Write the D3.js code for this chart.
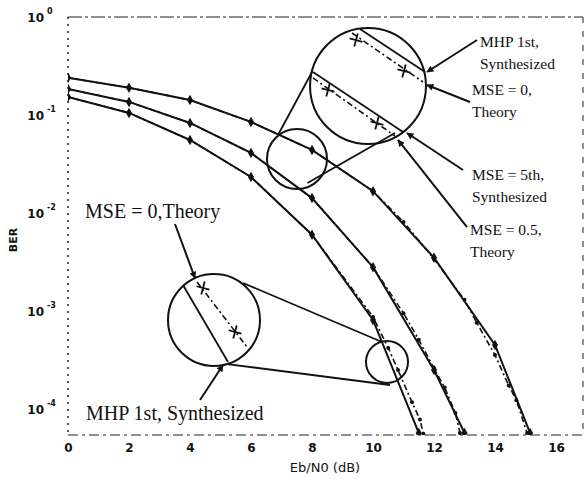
<!DOCTYPE html>
<html>
<head>
<meta charset="utf-8">
<script src="https://cdn.jsdelivr.net/npm/d3@7"></script>
<style>
  body { margin: 0; background: #fff; }
  text { fill: #111; }
</style>
</head>
<body>
<div id="chart"></div>
<script>
// ---- data (Eb/N0 in dB, BER) ----
const xTicks = [0, 2, 4, 6, 8, 10, 12, 14, 16];
const yExponents = [0, -1, -2, -3, -4];

// synthesized curves (solid, diamond markers)
const synthTopX = [0, 2, 4, 6, 8, 10, 12, 14, 15.15];
const synthTopY = [0.24, 0.19, 0.142, 0.085, 0.044, 0.0167, 0.0035, 4.5e-4, 5.7e-5];
const synthMidX = [0, 2, 4, 6, 8, 10, 12, 13.0];
const synthMidY = [0.184, 0.136, 0.083, 0.041, 0.0142, 0.0028, 2.5e-4, 5.7e-5];
const synthLowX = [0, 2, 4, 6, 8, 10, 11.5];
const synthLowY = [0.153, 0.105, 0.0556, 0.0233, 0.006, 8.1e-4, 5.7e-5];

// theory curves (dash-dot, dot markers)
const theoryTopX = [0, 2, 4, 6, 8, 10, 11, 12, 13, 13.4, 14, 14.45, 14.7, 15.05];
const theoryTopY = [0.24, 0.19, 0.142, 0.085, 0.044, 0.0167, 0.0081, 0.0034, 0.0013, 7.6e-4, 3.55e-4, 1.74e-4, 1.23e-4, 5.7e-5];
const theoryMidX = [0, 2, 4, 6, 8, 10, 11, 11.5, 12, 12.35, 12.7, 12.85];
const theoryMidY = [0.184, 0.136, 0.083, 0.041, 0.0142, 0.0028, 9.5e-4, 5.1e-4, 2.6e-4, 1.66e-4, 9.1e-5, 5.7e-5];
const theoryLowX = [0, 2, 4, 6, 8, 10, 10.5, 10.82, 11.28, 11.54, 11.65];
const theoryLowY = [0.153, 0.105, 0.0556, 0.0233, 0.006, 8.7e-4, 4.2e-4, 2.5e-4, 1.17e-4, 7.8e-5, 5.6e-5];

const width = 585;
const height = 479;
const margin = { top: 17, right: 2, bottom: 44, left: 68 };
const plotW = width - margin.left - margin.right;
const plotH = height - margin.top - margin.bottom;

const svg = d3.select("#chart").append("svg")
  .attr("width", width)
  .attr("height", height);

const x = d3.scaleLinear().domain([0, 16.885]).range([margin.left, margin.left + plotW]);
const y = d3.scaleLog().domain([1, Math.pow(10, -4.2653)]).range([margin.top, margin.top + plotH]);

// position from (dB, log10 BER)
const at = (db, lg) => [x(db), y(Math.pow(10, lg))];
const rad = r => x(r) - x(0);

const defs = svg.append("defs");
defs.append("clipPath").attr("id", "plot")
  .append("rect")
  .attr("x", margin.left).attr("y", margin.top)
  .attr("width", plotW).attr("height", plotH);

defs.append("marker")
  .attr("id", "head")
  .attr("viewBox", "0 0 10 10")
  .attr("refX", 9).attr("refY", 5)
  .attr("markerWidth", 10).attr("markerHeight", 7)
  .attr("markerUnits", "userSpaceOnUse")
  .attr("orient", "auto")
  .append("path")
  .attr("d", "M0,0 L10,5 L0,10 Z")
  .attr("fill", "#111");

// frame (dashed box like the scan)
const frame = svg.append("g").attr("stroke", "#222").attr("fill", "none");
frame.append("line")
  .attr("x1", x(0)).attr("x2", x(16.885)).attr("y1", y(1)).attr("y2", y(1))
  .attr("stroke-width", 1.2).attr("stroke-dasharray", "14,3,3,3");
frame.append("line")
  .attr("x1", x(0)).attr("x2", x(16.885)).attr("y1", margin.top + plotH).attr("y2", margin.top + plotH)
  .attr("stroke-width", 1.2).attr("stroke-dasharray", "10,4,3,4");
frame.append("line")
  .attr("x1", x(0)).attr("x2", x(0)).attr("y1", margin.top).attr("y2", margin.top + plotH)
  .attr("stroke-width", 1.5).attr("stroke-dasharray", "2,5");
frame.append("line")
  .attr("x1", x(16.885)).attr("x2", x(16.885)).attr("y1", margin.top).attr("y2", margin.top + plotH)
  .attr("stroke-width", 1).attr("stroke-dasharray", "6,8");

// x axis labels
const xAxis = d3.axisBottom(x).tickValues(xTicks).tickSize(0).tickPadding(0).tickFormat(d3.format("d"));
const gx = svg.append("g")
  .attr("transform", `translate(0,${margin.top + plotH + 8})`)
  .call(xAxis);
gx.select(".domain").remove();
gx.selectAll("text")
  .attr("font-family", "DejaVu Sans, sans-serif")
  .attr("font-size", 12)
  .attr("font-weight", "bold")
  .attr("fill", "#111");

// y axis labels: 10 with superscript exponent
const gy = svg.append("g");
yExponents.forEach(e => {
  gy.append("text")
    .attr("x", 44)
    .attr("y", y(Math.pow(10, e)) + 5)
    .attr("text-anchor", "end")
    .attr("font-family", "DejaVu Sans, sans-serif")
    .attr("font-size", 12)
    .attr("font-weight", "bold")
    .text("10");
  gy.append("text")
    .attr("x", 47)
    .attr("y", y(Math.pow(10, e)) - 3)
    .attr("font-family", "DejaVu Sans, sans-serif")
    .attr("font-size", 8)
    .attr("font-weight", "bold")
    .text(e === 0 ? "0" : "-" + Math.abs(e));
});

// axis titles
svg.append("text")
  .attr("transform", `translate(17,240) rotate(-90)`)
  .attr("text-anchor", "middle")
  .attr("font-family", "DejaVu Sans, sans-serif")
  .attr("font-size", 11)
  .attr("font-weight", "bold")
  .text("BER");
svg.append("text")
  .attr("x", 325)
  .attr("y", 472)
  .attr("text-anchor", "middle")
  .attr("font-family", "DejaVu Sans, sans-serif")
  .attr("font-size", 13)
  .text("Eb/N0 (dB)");

// curves
const line = d3.line().x(d => x(d[0])).y(d => y(d[1]));
const curves = svg.append("g").attr("clip-path", "url(#plot)");

const theorySeries = [
  d3.zip(theoryTopX, theoryTopY),
  d3.zip(theoryMidX, theoryMidY),
  d3.zip(theoryLowX, theoryLowY)
];
const synthSeries = [
  d3.zip(synthTopX, synthTopY),
  d3.zip(synthMidX, synthMidY),
  d3.zip(synthLowX, synthLowY)
];

theorySeries.forEach(s => {
  curves.append("path")
    .attr("d", line(s))
    .attr("fill", "none")
    .attr("stroke", "#111")
    .attr("stroke-width", 1.6)
    .attr("stroke-dasharray", "6,3,2,3");
  curves.append("g").selectAll("circle")
    .data(s)
    .enter()
    .append("circle")
    .attr("cx", d => x(d[0]))
    .attr("cy", d => y(d[1]))
    .attr("r", 2)
    .attr("fill", "#111");
});

synthSeries.forEach(s => {
  curves.append("path")
    .attr("d", line(s))
    .attr("fill", "none")
    .attr("stroke", "#111")
    .attr("stroke-width", 2);
  curves.append("g").selectAll("path")
    .data(s)
    .enter()
    .append("path")
    .attr("d", d3.symbol(d3.symbolDiamond).size(32))
    .attr("transform", d => `translate(${x(d[0])},${y(d[1])})`)
    .attr("fill", "#111");
});

// ---- zoom callouts (positions in dB / log10 BER) ----
const callCircles = [
  { c: [9.836, -0.704], r: 1.90 },
  { c: [7.508, -1.449], r: 0.984 },
  { c: [4.787, -3.092], r: 1.508 },
  { c: [10.459, -3.520], r: 0.689 }
];
const callSolid = [
  [[9.574, -0.122], [11.705, -0.561]],
  [[8.033, -0.561], [10.984, -1.173]],
  [[3.770, -2.735], [5.246, -3.520]],
  // connectors
  [[8.0, -0.561], [6.885, -1.204]],
  [[10.721, -1.184], [7.85, -1.694]],
  [[5.738, -2.714], [10.295, -3.316]],
  [[5.213, -3.541], [10.557, -3.755]]
];
const callDash = [
  [[9.311, -0.163], [11.639, -0.663]],
  [[8.033, -0.622], [10.721, -1.214]],
  [[4.230, -2.704], [5.869, -3.367]]
];
const callPlus = [
  [9.443, -0.235], [11.016, -0.551],
  [8.525, -0.745], [10.131, -1.082],
  [4.426, -2.765], [5.475, -3.214]
];
const arrows = [
  [[3.508, -2.112], [4.164, -2.664]],
  [[4.328, -3.908], [5.082, -3.551]],
  [[13.410, -0.235], [11.770, -0.561]],
  [[13.180, -0.867], [11.770, -0.694]],
  [[12.951, -1.561], [11.115, -1.184]],
  [[13.082, -2.143], [10.820, -1.255]]
];
const labels = [
  { p: [0.56, -2.051], size: 20, lines: ["MSE = 0,Theory"] },
  { p: [0.59, -4.112], size: 20, lines: ["MHP 1st, Synthesized"] },
  { p: [13.508, -0.306], size: 15.5, lines: ["MHP 1st,", "Synthesized"] },
  { p: [13.246, -0.796], size: 15.5, lines: ["MSE = 0,", "Theory"] },
  { p: [13.246, -1.663], size: 15.5, lines: ["MSE = 5th,", "Synthesized"] },
  { p: [13.180, -2.224], size: 15.5, lines: ["MSE = 0.5,", "Theory"] }
];

const ann = svg.append("g").attr("stroke", "#111").attr("fill", "none");

ann.selectAll("circle.call")
  .data(callCircles)
  .enter()
  .append("circle")
  .attr("class", "call")
  .attr("cx", d => at(...d.c)[0])
  .attr("cy", d => at(...d.c)[1])
  .attr("r", d => rad(d.r))
  .attr("stroke-width", 2);

ann.selectAll("line.solid")
  .data(callSolid)
  .enter()
  .append("line")
  .attr("class", "solid")
  .attr("x1", d => at(...d[0])[0]).attr("y1", d => at(...d[0])[1])
  .attr("x2", d => at(...d[1])[0]).attr("y2", d => at(...d[1])[1])
  .attr("stroke-width", 1.8);

ann.selectAll("line.dash")
  .data(callDash)
  .enter()
  .append("line")
  .attr("class", "dash")
  .attr("x1", d => at(...d[0])[0]).attr("y1", d => at(...d[0])[1])
  .attr("x2", d => at(...d[1])[0]).attr("y2", d => at(...d[1])[1])
  .attr("stroke-width", 1.6)
  .attr("stroke-dasharray", "6,3,2,3");

// plus is a stroke-only symbol
ann.selectAll("path.plus")
  .data(callPlus)
  .enter()
  .append("path")
  .attr("class", "plus")
  .attr("d", d3.symbol(d3.symbolPlus).size(60))
  .attr("transform", d => `translate(${at(...d)[0]},${at(...d)[1]}) rotate(15)`)
  .attr("fill", "none")
  .attr("stroke", "#111")
  .attr("stroke-width", 1.8);

ann.selectAll("line.arrow")
  .data(arrows)
  .enter()
  .append("line")
  .attr("class", "arrow")
  .attr("x1", d => at(...d[0])[0]).attr("y1", d => at(...d[0])[1])
  .attr("x2", d => at(...d[1])[0]).attr("y2", d => at(...d[1])[1])
  .attr("stroke-width", 2)
  .attr("marker-end", "url(#head)");

labels.forEach(l => {
  const [lx, ly] = at(...l.p);
  const t = svg.append("text")
    .attr("x", lx)
    .attr("y", ly)
    .attr("font-family", "Liberation Serif, Times New Roman, serif")
    .attr("font-size", l.size);
  l.lines.forEach((s, i) => {
    t.append("tspan")
      .attr("x", lx)
      .attr("dy", i === 0 ? 0 : l.size * 1.4)
      .text(s);
  });
});
</script>
</body>
</html>
